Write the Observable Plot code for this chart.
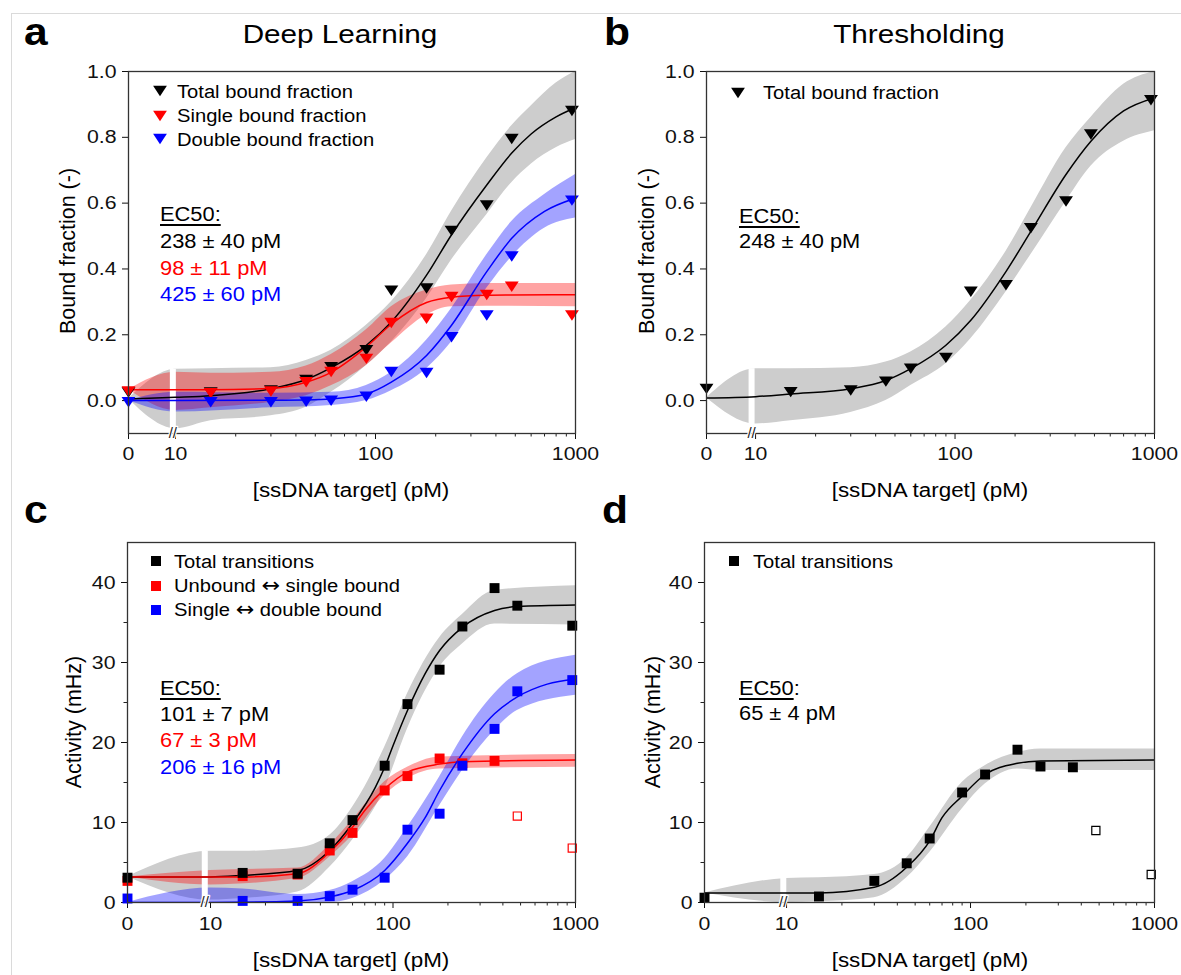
<!DOCTYPE html>
<html>
<head>
<meta charset="utf-8">
<script src="https://cdn.jsdelivr.net/npm/d3@7"></script>
<script src="https://cdn.jsdelivr.net/npm/@observablehq/plot@0.6"></script>
<style>
body { margin: 0; background: #fff; }
#fig { position: relative; width: 1181px; height: 975px; background: #fff; overflow: hidden;
       font-family: "Liberation Sans", Arial, Helvetica, sans-serif; color: #000; }
.t { position: absolute; white-space: nowrap; line-height: 1; }
.panel { position: absolute; }
.u { text-decoration: underline; text-underline-offset: 3px; text-decoration-thickness: 1.5px; }
.arr { font-family: "DejaVu Sans", sans-serif; font-size: 1.1em; line-height: 0.9; }
</style>
</head>
<body>
<div id="fig"></div>
<script>
// ---------------- DATA ----------------
const concentrations = [0, 15, 30, 45, 60, 90, 120, 180, 240, 360, 480, 960];
const openConc = [480, 960];
const xTickConc = [0, 10, 100, 1000];
const xTickLabels = ["0", "10", "100", "1000"];
const xMinorConc = [20, 30, 40, 50, 60, 70, 80, 90, 200, 300, 400, 500, 600, 700, 800, 900];

// panel a : Deep Learning, bound fraction
const aTotal  = [0.03, 0.03, 0.036, 0.068, 0.107, 0.158, 0.339, 0.346, 0.521, 0.598, 0.80, 0.885];
const aSingle = [0.033, 0.028, 0.033, 0.061, 0.092, 0.132, 0.241, 0.254, 0.32, 0.326, 0.351, 0.264];
const aDouble = [0.0, 0.0, 0.0, 0.002, 0.005, 0.017, 0.092, 0.089, 0.198, 0.264, 0.443, 0.613];
const aTotalFit  = [[0,0.005],[10,0.01],[15,0.015],[30,0.036],[45,0.064],[60,0.10],[90,0.168],[120,0.239],[180,0.381],[240,0.504],[360,0.655],[480,0.752],[600,0.81],[800,0.862],[1000,0.89]];
const aSingleFit = [[0,0.033],[10,0.033],[15,0.033],[30,0.037],[45,0.056],[60,0.086],[90,0.163],[120,0.232],[180,0.298],[240,0.314],[360,0.32],[480,0.321],[1000,0.322]];
const aDoubleFit = [[0,0],[10,0],[30,0.001],[45,0.002],[60,0.005],[90,0.02],[120,0.056],[180,0.137],[240,0.229],[360,0.392],[480,0.493],[700,0.575],[1000,0.615]];
const aTotalBand  = [[0,0.005,0.005],[10,-0.085,0.095],[15,-0.061,0.097],[30,-0.046,0.10],[45,-0.02,0.122],[60,0.025,0.153],[90,0.107,0.229],[120,0.178,0.30],[180,0.31,0.443],[240,0.427,0.575],[360,0.565,0.737],[480,0.662,0.835],[600,0.718,0.895],[800,0.768,0.965],[1000,0.793,1.0]];
const aSingleBand = [[0,0.033,0.033],[10,-0.03,0.086],[15,-0.022,0.083],[30,-0.005,0.086],[45,0.015,0.105],[60,0.045,0.14],[90,0.107,0.215],[120,0.175,0.285],[180,0.26,0.336],[240,0.285,0.351],[360,0.287,0.356],[1000,0.285,0.356]];
const aDoubleBand = [[0,0,0],[10,-0.035,0.025],[30,-0.022,0.022],[60,-0.015,0.025],[90,0.0,0.046],[120,0.03,0.086],[180,0.097,0.183],[240,0.178,0.28],[360,0.341,0.443],[480,0.437,0.544],[700,0.524,0.626],[1000,0.555,0.687]];

// panel b : Thresholding, bound fraction
const bTotal = [0.041, 0.031, 0.036, 0.063, 0.102, 0.135, 0.336, 0.356, 0.529, 0.61, 0.814, 0.918];
const bTotalFit  = [[0,0.008],[10,0.012],[15,0.02],[30,0.036],[45,0.061],[60,0.097],[90,0.168],[120,0.244],[180,0.392],[240,0.514],[360,0.687],[480,0.788],[700,0.88],[1000,0.92]];
const bTotalBand = [[0,0.008,0.008],[10,-0.071,0.097],[15,-0.061,0.097],[30,-0.036,0.10],[45,0.0,0.117],[60,0.046,0.148],[90,0.112,0.224],[120,0.188,0.305],[180,0.33,0.453],[240,0.443,0.585],[360,0.605,0.768],[480,0.712,0.86],[700,0.788,0.961],[1000,0.82,1.0]];

// panel c : Deep Learning, activity (mHz)
const cTotal        = [3.1, 3.7, 3.6, 7.4, 10.3, 17.1, 24.8, 29.1, 34.5, 39.3, 37.1, 34.6];
const cUnSingle     = [2.7, 3.3, 3.5, 6.5, 8.7, 14.0, 15.8, 18.0, 17.4, 17.7];
const cUnSingleOpen = [10.8, 6.8];
const cSingleDouble = [0.5, 0.2, 0.2, 0.8, 1.6, 3.1, 9.1, 11.1, 17.1, 21.7, 26.4, 27.8];
const cTotalFit        = [[0,3.2],[10,3.2],[15,3.4],[30,4.0],[45,6.5],[60,9.9],[80,14.4],[90,16.9],[100,19.6],[120,24],[150,28.6],[180,31.5],[240,34.4],[360,36.5],[480,37.0],[1000,37.2]];
const cUnSingleFit     = [[0,3.2],[10,3.2],[15,3.2],[30,3.6],[45,6.3],[60,9.4],[70,11.5],[90,14.2],[120,16.3],[180,17.3],[240,17.6],[1000,17.8]];
const cSingleDoubleFit = [[0,0],[10,0],[30,0.2],[45,0.7],[60,1.5],[90,4.0],[120,7.4],[150,10.6],[180,14.0],[240,18.6],[360,23.6],[480,25.7],[700,27.3],[1000,27.9]];
const cTotalBand        = [[0,3.2,3.2],[10,0.3,6.4],[15,0.5,6.4],[30,1.3,6.8],[45,4.4,8.4],[60,7.8,11.9],[90,14.2,19.4],[120,21.7,26.1],[180,29.4,33.1],[240,32.3,36.0],[360,34.8,39.0],[1000,34.7,39.6]];
const cUnSingleBand     = [[0,3.2,3.2],[10,2.2,4.0],[30,3.0,4.3],[45,5.7,7.2],[60,8.4,10.3],[90,13.4,15.1],[120,15.5,16.9],[180,16.7,18.2],[1000,16.9,18.5]];
const cSingleDoubleBand = [[0,0,0],[10,0,1.8],[15,0,1.7],[30,0,1.0],[45,0,1.5],[60,0.5,2.6],[90,2.8,5.5],[120,5.7,9.4],[180,12.1,15.7],[240,16.5,20.7],[360,21.5,26.1],[480,24.0,28.6],[1000,25.9,30.9]];

// panel d : Thresholding, activity (mHz)
const dTotal     = [0.6, 0.75, 2.7, 4.9, 8.0, 13.75, 16.0, 19.1, 17.0, 16.9];
const dTotalOpen = [9.0, 3.5];
const dTotalFit  = [[0,1.2],[10,1.2],[15,1.2],[30,1.9],[45,4.4],[60,7.7],[70,10.6],[90,13.3],[120,16.0],[180,17.4],[240,17.7],[1000,17.8]];
const dTotalBand = [[0,1.2,1.2],[10,0,3.0],[15,0.1,3.1],[30,0.6,3.5],[45,3.1,5.6],[60,6.25,9.4],[90,11.7,15.0],[120,14.8,17.1],[180,16.7,18.75],[240,16.5,19.2],[1000,16.5,19.2]];

// ---------------- STYLE ----------------
const FONT = '"Liberation Sans", Arial, Helvetica, sans-serif';
const SX = 1.12;
const BLACK = "#000000", RED = "#ff0000", BLUE = "#0000ff";
const GRAYBAND = "#cdcdcd";

const TRI = { draw(ctx, size) {
  const a = Math.sqrt(size / 0.375), h = 0.75 * a;
  ctx.moveTo(0, 2 * h / 3); ctx.lineTo(-a / 2, -h / 3); ctx.lineTo(a / 2, -h / 3); ctx.closePath();
}};

const fig = document.getElementById("fig");

function makePanel(cfg) {
  const pos = c => c <= 0 ? 0 : cfg.gap + Math.log10(c / 10);
  const y0 = cfg.yDomain[0];
  const tickU = xTickConc.map(pos);
  const marks = [];
  for (const b of cfg.bands) {
    marks.push(Plot.areaY(b.data, {x: d => pos(d[0]), y1: d => d[1], y2: d => d[2],
      fill: b.fill, fillOpacity: b.op, curve: "monotone-x", clip: true}));
  }
  const brkTop = d3.max(cfg.bands, b => b.data.find(r => r[0] === 10)[2]);
  marks.push(Plot.ruleX([cfg.brk], {x: pos, y1: y0, y2: brkTop, stroke: "white", strokeWidth: 6}));
  for (const f of cfg.fits) {
    marks.push(Plot.line(f.data, {x: d => pos(d[0]), y: d => d[1], stroke: f.color,
      strokeWidth: 1.5, curve: "monotone-x", clip: true}));
  }
  for (const s of cfg.dots) {
    const rows = s.vals.map((v, i) => [concentrations[i], v]);
    marks.push(Plot.dot(rows, {x: d => pos(d[0]), y: d => d[1], symbol: s.symbol, r: s.r, fill: s.color}));
  }
  for (const s of (cfg.opens || [])) {
    const rows = s.vals.map((v, i) => [openConc[i], v]);
    marks.push(Plot.dot(rows, {x: d => pos(d[0]), y: d => d[1], symbol: "square", r: 4.6,
      fill: "white", stroke: s.color, strokeWidth: 1.2}));
  }
  marks.push(Plot.ruleX(xMinorConc, {x: pos, y1: y0, y2: y0, insetBottom: -3.5, stroke: "#222", strokeWidth: 1}));
  if (cfg.yMinor.length) {
    marks.push(Plot.ruleY(cfg.yMinor, {y: d => d, x1: 0, x2: 0, insetLeft: -3.5, stroke: "#222", strokeWidth: 1}));
  }
  marks.push(Plot.frame({stroke: "#333", strokeWidth: 1.3}));
  marks.push(Plot.text([cfg.brk], {x: pos, y: y0, text: () => "//", fontSize: 15,
    fill: "#222", stroke: "white", strokeWidth: 2.5}));

  const svg = Plot.plot({
    width: cfg.width, height: cfg.height,
    marginLeft: cfg.mL, marginRight: cfg.mR, marginTop: cfg.mT, marginBottom: cfg.mB,
    style: {fontFamily: FONT, fontSize: "19px", color: "#111", background: "transparent", overflow: "visible"},
    x: {domain: [0, cfg.gap + 2], ticks: tickU, label: null, tickSize: 6, tickPadding: cfg.xPad,
        tickFormat: u => xTickLabels[tickU.findIndex(t => Math.abs(t - u) < 1e-9)]},
    y: {domain: cfg.yDomain, ticks: cfg.yTicks, tickFormat: cfg.yFmt, label: null, tickSize: 6, tickPadding: 6},
    marks
  });
  d3.select(svg).selectAll('g[aria-label*="axis"] text').each(function() {
    const t = this.getAttribute("transform") || "";
    this.setAttribute("transform", (t + ` scale(${SX},1)`).trim());
    this.style.fontSize = "19px";
    this.style.fontFamily = FONT;
  });
  const wrap = document.createElement("div");
  wrap.className = "panel";
  wrap.style.left = cfg.left + "px";
  wrap.style.top = cfg.top + "px";
  wrap.appendChild(svg);
  fig.appendChild(wrap);
}

function label(str, o) {
  const d = document.createElement("div");
  d.className = "t";
  const fs = o.size;
  d.style.fontSize = fs + "px";
  d.style.color = o.color || "#000";
  if (o.bold) d.style.fontWeight = "bold";
  if (o.rotate) {
    d.style.left = o.x + "px"; d.style.top = o.y + "px";
    d.style.transform = "translate(-50%,-50%) rotate(-90deg)";
  } else {
    d.style.left = o.x + "px";
    d.style.top = (o.base - 0.8465 * fs) + "px";
    if (o.anchor === "middle") { d.style.transformOrigin = "50% 0"; d.style.transform = `translateX(-50%) scaleX(${SX})`; }
    else { d.style.transformOrigin = "0 0"; d.style.transform = `scaleX(${SX})`; }
  }
  if (o.html) d.innerHTML = str; else d.textContent = str;
  fig.appendChild(d);
}

function marker(kind, color, x, y) {
  const ns = "http://www.w3.org/2000/svg";
  const s = document.createElementNS(ns, "svg");
  s.setAttribute("width", 20); s.setAttribute("height", 20);
  s.style.position = "absolute"; s.style.left = (x - 10) + "px"; s.style.top = (y - 10) + "px";
  let el;
  if (kind === "tri") {
    el = document.createElementNS(ns, "polygon");
    el.setAttribute("points", "10,15.2 3.1,4.8 16.9,4.8");
  } else {
    el = document.createElementNS(ns, "rect");
    el.setAttribute("x", 5); el.setAttribute("y", 5); el.setAttribute("width", 10); el.setAttribute("height", 10);
  }
  el.setAttribute("fill", color);
  s.appendChild(el);
  fig.appendChild(s);
}

// figure border
const bt = document.createElement("div");
bt.style.cssText = "position:absolute;left:11px;top:13px;right:0;bottom:0;border-top:1px solid #dadada;border-left:1px solid #dadada;";
fig.appendChild(bt);

// ---------------- PANELS ----------------
const fmt1 = d3.format(".1f");
makePanel({left: 0, top: 0, width: 600, height: 480, mL: 128, mR: 25, mT: 71, mB: 47,
  gap: 0.235, brk: 9.7, xPad: 7, yDomain: [-0.1, 1.0], yTicks: [0, 0.2, 0.4, 0.6, 0.8, 1.0], yFmt: fmt1, yMinor: [],
  bands: [{data: aTotalBand, fill: GRAYBAND, op: 1}, {data: aSingleBand, fill: RED, op: 0.36}, {data: aDoubleBand, fill: BLUE, op: 0.36}],
  fits: [{data: aTotalFit, color: BLACK}, {data: aSingleFit, color: RED}, {data: aDoubleFit, color: BLUE}],
  dots: [{vals: aTotal, color: BLACK, symbol: TRI, r: 4.8}, {vals: aSingle, color: RED, symbol: TRI, r: 4.8}, {vals: aDouble, color: BLUE, symbol: TRI, r: 4.8}]
});
makePanel({left: 590, top: 0, width: 591, height: 480, mL: 116, mR: 27, mT: 71, mB: 47,
  gap: 0.246, brk: 9.55, xPad: 7, yDomain: [-0.1, 1.0], yTicks: [0, 0.2, 0.4, 0.6, 0.8, 1.0], yFmt: fmt1, yMinor: [],
  bands: [{data: bTotalBand, fill: GRAYBAND, op: 1}],
  fits: [{data: bTotalFit, color: BLACK}],
  dots: [{vals: bTotal, color: BLACK, symbol: TRI, r: 4.8}]
});
makePanel({left: 0, top: 480, width: 600, height: 495, mL: 127, mR: 25, mT: 62, mB: 73,
  gap: 0.455, brk: 9.3, xPad: 8, yDomain: [0, 45], yTicks: [0, 10, 20, 30, 40], yFmt: d => String(d), yMinor: [5, 15, 25, 35],
  bands: [{data: cTotalBand, fill: GRAYBAND, op: 1}, {data: cUnSingleBand, fill: RED, op: 0.36}, {data: cSingleDoubleBand, fill: BLUE, op: 0.36}],
  fits: [{data: cTotalFit, color: BLACK}, {data: cUnSingleFit, color: RED}, {data: cSingleDoubleFit, color: BLUE}],
  dots: [{vals: cUnSingle, color: RED, symbol: "square", r: 5.6}, {vals: cSingleDouble, color: BLUE, symbol: "square", r: 5.6}, {vals: cTotal, color: BLACK, symbol: "square", r: 5.6}],
  opens: [{vals: cUnSingleOpen, color: RED}]
});
makePanel({left: 590, top: 480, width: 591, height: 495, mL: 114, mR: 27, mT: 62, mB: 73,
  gap: 0.446, brk: 9.6, xPad: 8, yDomain: [0, 45], yTicks: [0, 10, 20, 30, 40], yFmt: d => String(d), yMinor: [5, 15, 25, 35],
  bands: [{data: dTotalBand, fill: GRAYBAND, op: 1}],
  fits: [{data: dTotalFit, color: BLACK}],
  dots: [{vals: dTotal, color: BLACK, symbol: "square", r: 5.6}],
  opens: [{vals: dTotalOpen, color: BLACK}]
});

// ---------------- TEXT ----------------
label("a", {x: 24, base: 45, size: 38, bold: true});
label("b", {x: 604, base: 45, size: 38, bold: true});
label("c", {x: 24, base: 523, size: 38, bold: true});
label("d", {x: 602, base: 523, size: 38, bold: true});
label("Deep Learning", {x: 340, base: 43, size: 26.5, anchor: "middle"});
label("Thresholding", {x: 919, base: 43, size: 26.5, anchor: "middle"});

const xTitle = "[ssDNA target] (pM)";
label(xTitle, {x: 351, base: 497, size: 20, anchor: "middle"});
label(xTitle, {x: 930, base: 497, size: 20, anchor: "middle"});
label(xTitle, {x: 351, base: 967, size: 20, anchor: "middle"});
label(xTitle, {x: 930, base: 967, size: 20, anchor: "middle"});
label("Bound fraction (-)", {x: 69, y: 251, size: 21.5, rotate: true});
label("Bound fraction (-)", {x: 648, y: 251, size: 21.5, rotate: true});
label("Activity (mHz)", {x: 75, y: 722, size: 21.5, rotate: true});
label("Activity (mHz)", {x: 654, y: 722, size: 21.5, rotate: true});

// legends
marker("tri", BLACK, 160, 91);  label("Total bound fraction", {x: 177, base: 98, size: 18});
marker("tri", RED, 160, 116);   label("Single bound fraction", {x: 177, base: 122, size: 18});
marker("tri", BLUE, 160, 139);  label("Double bound fraction", {x: 177, base: 146, size: 18});
marker("tri", BLACK, 738, 93);  label("Total bound fraction", {x: 763, base: 99, size: 18});
marker("sq", BLACK, 156, 561);  label("Total transitions", {x: 174, base: 568, size: 18});
marker("sq", RED, 156, 586);    label('Unbound <span class="arr">\u2194</span> single bound', {x: 174, base: 592, size: 18, html: true});
marker("sq", BLUE, 156, 610);   label('Single <span class="arr">\u2194</span> double bound', {x: 174, base: 616, size: 18, html: true});
marker("sq", BLACK, 734, 561);  label("Total transitions", {x: 753, base: 568, size: 18});

// EC50 annotations
const ec = 19.5;
label('<span class="u">EC50:</span>', {x: 160, base: 222, size: ec, html: true});
label("238 \u00b1 40 pM", {x: 160, base: 249, size: ec});
label("98 \u00b1 11 pM", {x: 160, base: 276, size: ec, color: RED});
label("425 \u00b1 60 pM", {x: 160, base: 302, size: ec, color: BLUE});
label('<span class="u">EC50:</span>', {x: 739, base: 224, size: ec, html: true});
label("248 \u00b1 40 pM", {x: 739, base: 249, size: ec});
label('<span class="u">EC50:</span>', {x: 160, base: 696, size: ec, html: true});
label("101 \u00b1 7 pM", {x: 160, base: 722, size: ec});
label("67 \u00b1 3 pM", {x: 160, base: 748, size: ec, color: RED});
label("206 \u00b1 16 pM", {x: 160, base: 775, size: ec, color: BLUE});
label('<span class="u">EC50</span>:', {x: 739, base: 696, size: ec, html: true});
label("65 \u00b1 4 pM", {x: 739, base: 721, size: ec});
</script>
</body>
</html>
